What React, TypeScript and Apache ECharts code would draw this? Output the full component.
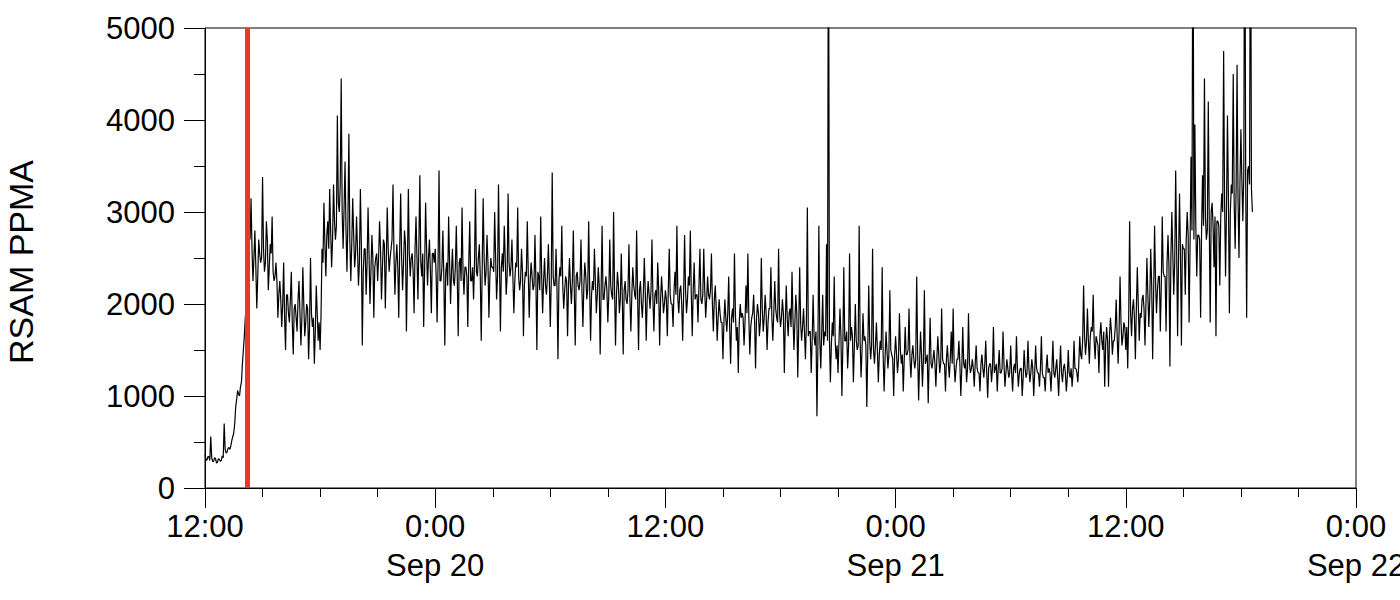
import React, { useEffect, useRef } from "react";
import * as echarts from "echarts";

// Sampling grid: hours after Sep 19 12:00. Envelope samples every 6 minutes,
// core-band samples in between (3 minutes later).
const startLabel = "Sep 19 12:00";
const sampleStepHours = 0.1;
const coreOffsetHours = 0.05;
const eventHour = 2.2; // red marker (Sep 19 ~14:12)

// RSAM PPMA envelope values, one row per hour (10 samples)
const rsamSep19Afternoon = [
  360, 300, 340, 560, 290, 330, 270, 320, 290, 350,
  700, 380, 430, 420, 520, 600, 880, 1060, 1000, 1150,
  1500, 1850, 2000, 2900, 3150, 2250, 2800, 1950, 2700, 2450,
  3380, 2350, 2900, 2150, 2650, 2950, 2250, 2450, 1850, 2250,
  1750, 2450, 1500, 2100, 1800, 2350, 1450, 2000, 1700, 2250,
  1550, 2400, 1650, 2000, 1400, 2500, 1750, 1350, 2200, 1600,
  1500, 2600, 3100, 2300, 2900, 3250, 2400, 3300, 2700, 4050,
  3000, 4450, 2600, 3550, 2350, 3850, 2250, 3150, 2400, 2950,
  2200, 3250, 1550, 2600, 2100, 3050, 2000, 2750, 1850, 2500,
  2250, 2900, 2050, 2700, 1950, 3050, 2350, 2600, 3300, 2100,
  2650, 1850, 3200, 2150, 2800, 1700, 3250, 2300, 2550, 1900,
  2950, 2050, 3400, 2300, 1750, 3100, 2200, 2700, 1900, 2550,
];

const rsamSep20 = [
  2600, 1800, 3450, 2250, 2800, 1550, 2450, 2950, 2000, 2600,
  2200, 2850, 1650, 2500, 3050, 2100, 2400, 1750, 2900, 2250,
  2050, 3250, 2300, 2650, 1600, 3150, 2200, 2750, 1850, 2500,
  2400, 3000, 2050, 3300, 1700, 2550, 2850, 2100, 3200, 2300,
  2700, 1900, 2450, 3050, 2150, 2600, 1650, 2350, 2900, 1850,
  2450, 2150, 2750, 1500, 2300, 2950, 1900, 2500, 2100, 2650,
  1750, 3430, 2200, 2600, 1400, 2400, 2850, 1950, 2300, 1650,
  2500, 2000, 2800, 1550, 2350, 2150, 2700, 1750, 2450, 2050,
  2900, 1600, 2250, 2600, 1900, 2400, 1450, 2850, 2050, 2300,
  1800, 2700, 2100, 3000, 1550, 2350, 1900, 2550, 1450, 2250,
  2000, 2650, 1700, 2400, 2100, 2800, 1500, 2250, 1850, 2500,
  1600, 2250, 1950, 2700, 1700, 2150, 2450, 1550, 2300, 1900,
  2150, 1650, 2600, 2000, 1750, 2350, 2850, 1900, 2200, 1600,
  2750, 1900, 2300, 2800, 1650, 2450, 2100, 1800, 2600, 2000,
  2600, 1850, 2300, 2050, 2550, 1700, 2200, 1600, 2050, 1800,
  1400, 2050, 1700, 2300, 1350, 1950, 2550, 1600, 1250, 2000,
  1900, 1550, 2200, 2550, 1450, 1850, 2100, 1300, 2000, 1650,
  2500, 1700, 2100, 1500, 1950, 2400, 1600, 2250, 1850, 2600,
  1750, 2050, 1250, 2200, 1650, 1950, 2350, 1500, 2100, 1200,
  2400, 1600, 1950, 1400, 3050, 1700, 1250, 2100, 1550, 780,
  2850, 1300, 2100, 1700, 2650, 7000, 1150, 1800, 2300, 1400,
  1250, 1950, 1000, 2400, 1600, 1300, 2550, 1750, 1150, 2000,
  1500, 2850, 1200, 1900, 1650, 880, 2200, 1400, 2600, 1350,
  1800, 1150, 1600, 2400, 1050, 1700, 1300, 2150, 1450, 1000,
];

const rsamSep21 = [
  1650, 1250, 1900, 1350, 1050, 1750, 1450, 1950, 1200, 1550,
  1300, 2300, 950, 1700, 1100, 2150, 1400, 920, 1850, 1300,
  1500, 1100, 1650, 1250, 1950, 1350, 1050, 1550, 1200, 1700,
  1950, 1150, 1400, 1600, 1000, 1750, 1300, 1150, 1900, 1250,
  1400, 1100, 1550, 1250, 1050, 1450, 1200, 1600, 980, 1350,
  1150, 1750, 1300, 1050, 1500, 1250, 1700, 1100, 1400, 1200,
  1550, 1050, 1350, 1650, 1100, 1300, 1000, 1500, 1200, 1600,
  1150, 1400, 1000, 1550, 1250, 1100, 1650, 1200, 1050, 1450,
  1300, 1050, 1600, 1200, 1400, 1000, 1550, 1150, 1350, 1050,
  1500, 1200, 1100, 1600, 1300, 1150, 1650, 1400, 2200, 1450,
  1950, 1350, 1750, 2100, 1400, 1600, 1250, 1800, 1500, 1100,
  1750, 1100, 1850, 1450, 1600, 2050, 1350, 2300, 1550, 1800,
  1500, 1300, 2900, 1650, 2050, 1400, 2400, 1600, 1850, 2100,
  1550, 2500, 1750, 2600, 1400, 2850, 1900, 2300, 1700, 2950,
  2300, 1700, 2750, 1320, 3000, 2100, 3450, 1650, 3200, 1550,
  2600, 2100, 3000, 1800, 3600, 7000, 3950, 2300, 2750, 1850,
  3400, 4450, 2700, 4200, 1800, 3100, 2400, 1650, 2900, 2200,
  3200, 4750, 2300, 4050, 1900, 3300, 4500, 2600, 4600, 2500,
  3900, 2900, 7000, 1850, 3500, 7000, 3000,
];

// Core-band values (the dense middle of the trace), one row per hour
const coreSep19Afternoon = [
  310, 340, 300, 330, 290, 320, 280, 310, 300, 330,
  420, 390, 440, 460, 560, 700, 960, 1020, 1100, 1350,
  1650, 1950, 2400, 2700, 2600, 2500, 2400, 2300, 2550, 2500,
  2600, 2450, 2700, 2400, 2550, 2350, 2300, 2250, 2100, 2050,
  2000, 1850, 2100, 1900, 2050, 1800, 1950, 1850, 2050, 1900,
  1850, 2000, 1800, 1950, 1750, 1900, 1850, 1700, 1900, 1800,
  1900, 2450, 2650, 2750, 2600, 2800, 2700, 2900, 2850, 3100,
  3300, 3000, 3050, 2800, 2900, 2700, 2650, 2750, 2550, 2600,
  2450, 2650, 2350, 2600, 2450, 2550, 2350, 2500, 2400, 2550,
  2500, 2600, 2400, 2650, 2450, 2600, 2500, 2700, 2550, 2450,
  2400, 2600, 2500, 2450, 2650, 2400, 2550, 2500, 2350, 2600,
  2500, 2650, 2450, 2550, 2400, 2600, 2500, 2350, 2550, 2450,
];

const coreSep20 = [
  2300, 2450, 2250, 2400, 2300, 2350, 2200, 2450, 2350, 2250,
  2400, 2300, 2450, 2250, 2350, 2400, 2300, 2450, 2250, 2400,
  2450, 2350, 2500, 2300, 2400, 2500, 2350, 2450, 2300, 2400,
  2350, 2500, 2300, 2450, 2400, 2350, 2500, 2300, 2450, 2400,
  2300, 2250, 2400, 2300, 2250, 2350, 2200, 2300, 2350, 2250,
  2300, 2200, 2250, 2350, 2150, 2300, 2250, 2200, 2300, 2250,
  2250, 2300, 2200, 2150, 2250, 2300, 2200, 2150, 2250, 2200,
  2200, 2250, 2150, 2300, 2200, 2250, 2150, 2200, 2300, 2150,
  2200, 2100, 2150, 2250, 2100, 2200, 2150, 2050, 2200, 2150,
  2100, 2200, 2050, 2150, 2100, 2200, 2050, 2100, 2150, 2050,
  2150, 2050, 2100, 2200, 2050, 2100, 2150, 2000, 2100, 2150,
  2050, 2100, 2150, 2050, 2100, 2000, 2150, 2050, 2100, 2000,
  2050, 2150, 2100, 2000, 2150, 2100, 2050, 2150, 2000, 2100,
  2150, 2050, 2200, 2100, 2150, 2050, 2100, 2200, 2050, 2100,
  2150, 2050, 2100, 2150, 2000, 2050, 1950, 1850, 1900, 1800,
  1800, 1850, 1900, 1750, 1850, 1800, 1900, 1750, 1800, 1850,
  1850, 1800, 1900, 1850, 1750, 1900, 1800, 1850, 1900, 1800,
  1950, 1850, 1900, 1800, 1950, 1850, 1900, 1950, 1800, 1900,
  1850, 1900, 1800, 1850, 1900, 1750, 1850, 1800, 1900, 1750,
  1800, 1750, 1700, 1800, 1650, 1700, 1600, 1650, 1700, 1550,
  1600, 1700, 1550, 1650, 1600, 1650, 1550, 1650, 1600, 1550,
  1600, 1650, 1550, 1600, 1700, 1550, 1600, 1650, 1550, 1600,
  1550, 1600, 1500, 1600, 1550, 1500, 1600, 1550, 1500, 1550,
  1500, 1450, 1500, 1450, 1400, 1500, 1450, 1500, 1400, 1450,
];

const coreSep21 = [
  1450, 1400, 1500, 1450, 1400, 1450, 1500, 1400, 1450, 1400,
  1400, 1450, 1350, 1450, 1400, 1350, 1450, 1400, 1350, 1400,
  1350, 1400, 1450, 1350, 1400, 1350, 1400, 1350, 1400, 1350,
  1350, 1300, 1400, 1350, 1300, 1350, 1400, 1300, 1350, 1300,
  1300, 1350, 1300, 1250, 1350, 1300, 1350, 1250, 1300, 1350,
  1300, 1250, 1350, 1300, 1250, 1300, 1350, 1250, 1300, 1250,
  1250, 1300, 1250, 1300, 1250, 1300, 1200, 1300, 1250, 1300,
  1250, 1300, 1250, 1300, 1250, 1300, 1250, 1200, 1300, 1250,
  1250, 1300, 1250, 1300, 1200, 1300, 1250, 1300, 1250, 1200,
  1250, 1300, 1250, 1300, 1250, 1350, 1450, 1600, 1650, 1600,
  1600, 1650, 1700, 1600, 1650, 1550, 1650, 1600, 1700, 1550,
  1600, 1650, 1700, 1600, 1750, 1650, 1700, 1800, 1650, 1750,
  1750, 1850, 1900, 1950, 1850, 1950, 2000, 1900, 2050, 1950,
  2000, 2100, 2050, 2200, 2100, 2250, 2150, 2300, 2200, 2350,
  2300, 2450, 2400, 2500, 2550, 2450, 2600, 2500, 2550, 2650,
  2600, 2700, 2750, 2650, 2800, 2700, 2850, 2750, 2700, 2800,
  2850, 2950, 2800, 2900, 3000, 2850, 2950, 2900, 2850, 2950,
  3000, 3100, 3050, 3150, 3000, 3200, 3100, 3250, 3150, 3300,
  3350, 3400, 3300, 3450, 3300, 3250,
];

const xTickLabels = ["12:00", "0:00\nSep 20", "12:00", "0:00\nSep 21", "12:00", "0:00\nSep 22"];
const yAxisTitle = "RSAM PPMA";

const FONT = "'Liberation Sans', Arial, Helvetica, sans-serif";

export default function App() {
  const ref = useRef<HTMLDivElement>(null);

  useEffect(() => {
    if (!ref.current) return;
    const chart = echarts.init(ref.current, undefined, { renderer: "svg" });
    const envelope = [...rsamSep19Afternoon, ...rsamSep20, ...rsamSep21];
    const core = [...coreSep19Afternoon, ...coreSep20, ...coreSep21];
    const seriesData: number[][] = [];
    envelope.forEach((v, i) => {
      const t = i * sampleStepHours;
      seriesData.push([+t.toFixed(2), v]);
      if (i < core.length) seriesData.push([+(t + coreOffsetHours).toFixed(2), core[i]]);
    });

    chart.setOption({
      animation: false,
      backgroundColor: "#ffffff",
      grid: {
        left: 205,
        top: 28,
        width: 1151,
        height: 460,
        containLabel: false,
        outerBoundsMode: "none",
        show: true,
        borderColor: "#000",
        borderWidth: 1,
        backgroundColor: "transparent",
      },
      xAxis: {
        type: "value",
        min: 0,
        max: 60,
        interval: 12,
        axisLine: { show: true, lineStyle: { color: "#000", width: 1 } },
        axisTick: { show: true, length: 20, inside: false, lineStyle: { color: "#000", width: 1 } },
        minorTick: { show: true, splitNumber: 4, length: 9, lineStyle: { color: "#000", width: 1 } },
        splitLine: { show: false },
        minorSplitLine: { show: false },
        axisLabel: {
          show: true,
          showMinLabel: true,
          showMaxLabel: true,
          hideOverlap: false,
          margin: 19,
          color: "#000",
          fontFamily: FONT,
          fontSize: 31,
          lineHeight: 39,
          formatter: (v: number) => xTickLabels[Math.round(v / 12)] ?? "",
        },
      },
      yAxis: {
        type: "value",
        min: 0,
        max: 5000,
        interval: 1000,
        name: yAxisTitle,
        nameLocation: "middle",
        nameRotate: 90,
        nameGap: 167,
        nameTextStyle: { color: "#000", fontFamily: FONT, fontSize: 34, padding: [0, 8, 0, 0] },
        axisLine: { show: true, lineStyle: { color: "#000", width: 1 } },
        axisTick: { show: true, length: 21, inside: false, lineStyle: { color: "#000", width: 1 } },
        minorTick: { show: true, splitNumber: 2, length: 11, lineStyle: { color: "#000", width: 1 } },
        splitLine: { show: false },
        minorSplitLine: { show: false },
        axisLabel: {
          show: true,
          margin: 30,
          color: "#000",
          fontFamily: FONT,
          fontSize: 31,
          formatter: (v: number) => String(v),
        },
      },
      series: [
        {
          type: "line",
          name: "RSAM " + startLabel,
          data: seriesData,
          showSymbol: false,
          symbol: "none",
          clip: true,
          lineStyle: { color: "#000", width: 1.2 },
          markLine: {
            silent: true,
            symbol: ["none", "none"],
            label: { show: false },
            lineStyle: { color: "#e53a2a", width: 5, type: "solid" },
            data: [{ xAxis: eventHour }],
          },
        },
      ],
    });

    return () => chart.dispose();
  }, []);

  return (
    <div
      ref={ref}
      style={{ position: "absolute", left: 0, top: 0, width: 1400, height: 600 }}
    />
  );
}
